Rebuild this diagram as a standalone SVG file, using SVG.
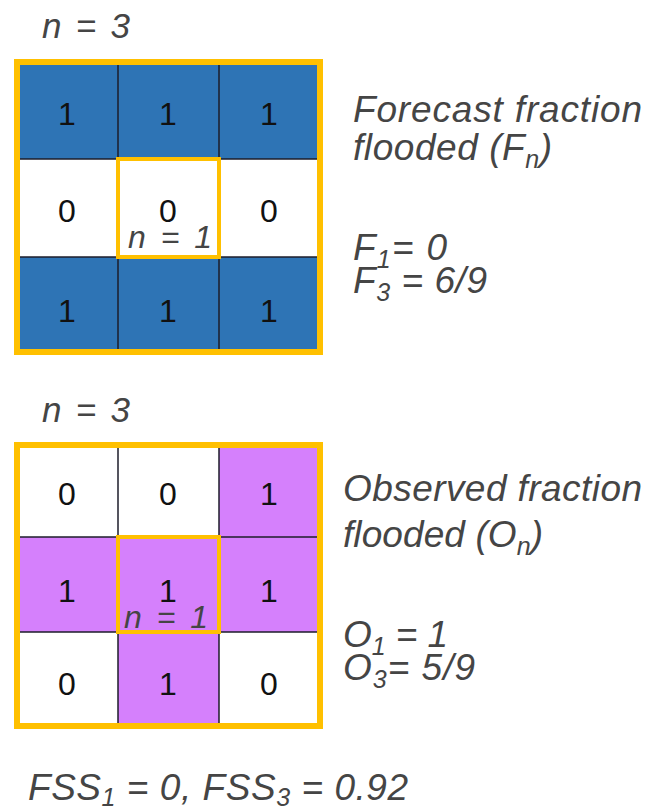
<svg xmlns="http://www.w3.org/2000/svg" width="653" height="811" viewBox="0 0 653 811">
<style>
.lbl{font-family:"Liberation Sans",Arial,sans-serif;font-style:italic;fill:#454545}
.dig{font-family:"Liberation Sans",Arial,sans-serif;font-size:32px;fill:#111;text-anchor:middle}
.grid{stroke:#1c1c2a;stroke-width:1.5}
.outer{fill:none;stroke:#FFC000;stroke-width:6}
.inner{fill:none;stroke:#FFC000;stroke-width:4}
.blue{fill:#2E74B5}
.purp{fill:#D580FC}
</style>
<rect width="653" height="811" fill="#ffffff"/>

<g id="forecast-grid">
<text class="lbl" x="42" y="38" font-size="35" textLength="88" lengthAdjust="spacing">n = 3</text>
<rect class="blue" x="17" y="62" width="303" height="97"/>
<rect fill="#fff" x="17" y="159" width="303" height="98"/>
<rect class="blue" x="17" y="257" width="303" height="95"/>
<g class="grid">
<line x1="118" y1="62" x2="118" y2="352"/>
<line x1="219" y1="62" x2="219" y2="352"/>
<line x1="17" y1="159" x2="320" y2="159"/>
<line x1="17" y1="257" x2="320" y2="257"/>
</g>
<text class="dig" x="67" y="125">1</text><text class="dig" x="168" y="125">1</text><text class="dig" x="269" y="125">1</text>
<text class="dig" x="67" y="222">0</text><text class="dig" x="168" y="222">0</text><text class="dig" x="269" y="222">0</text>
<text class="dig" x="67" y="322">1</text><text class="dig" x="168" y="322">1</text><text class="dig" x="269" y="322">1</text>
<rect class="inner" x="118" y="159" width="101" height="98"/>
<text class="lbl" x="128" y="248" font-size="32" textLength="84" lengthAdjust="spacing">n = 1</text>
<rect class="outer" x="17" y="62" width="303" height="290"/>
</g>

<g id="forecast-text">
<text class="lbl" x="353" y="122" font-size="37" textLength="289" lengthAdjust="spacing">Forecast fraction</text>
<text class="lbl" x="353" y="160" font-size="37" textLength="199" lengthAdjust="spacing">flooded (F<tspan font-size="25" dy="8">n</tspan><tspan dy="-8">)</tspan></text>
<text class="lbl" x="353" y="260" font-size="37" textLength="94" lengthAdjust="spacing">F<tspan font-size="25" dy="8">1</tspan><tspan dy="-8">= 0</tspan></text>
<text class="lbl" x="353" y="293" font-size="37" textLength="134" lengthAdjust="spacing">F<tspan font-size="25" dy="8">3</tspan><tspan dy="-8"> = 6/9</tspan></text>
</g>

<g id="observed-grid">
<text class="lbl" x="42" y="422" font-size="35" textLength="88" lengthAdjust="spacing">n = 3</text>
<rect class="purp" x="219" y="445" width="101" height="92"/>
<rect class="purp" x="17" y="537" width="303" height="95"/>
<rect class="purp" x="118" y="632" width="101" height="94"/>
<g class="grid">
<line x1="118" y1="445" x2="118" y2="726"/>
<line x1="219" y1="445" x2="219" y2="726"/>
<line x1="17" y1="537" x2="320" y2="537"/>
<line x1="17" y1="632" x2="320" y2="632"/>
</g>
<text class="dig" x="67" y="505">0</text><text class="dig" x="168" y="505">0</text><text class="dig" x="269" y="505">1</text>
<text class="dig" x="67" y="602">1</text><text class="dig" x="168" y="602">1</text><text class="dig" x="269" y="602">1</text>
<text class="dig" x="67" y="695">0</text><text class="dig" x="168" y="695">1</text><text class="dig" x="269" y="695">0</text>
<rect class="inner" x="118" y="537" width="101" height="95"/>
<text class="lbl" x="124" y="628" font-size="32" textLength="84" lengthAdjust="spacing">n = 1</text>
<rect class="outer" x="17" y="445" width="303" height="281"/>
</g>

<g id="observed-text">
<text class="lbl" x="343" y="501" font-size="37" textLength="299" lengthAdjust="spacing">Observed fraction</text>
<text class="lbl" x="343" y="547" font-size="37" textLength="200" lengthAdjust="spacing">flooded (O<tspan font-size="25" dy="8">n</tspan><tspan dy="-8">)</tspan></text>
<text class="lbl" x="343" y="647" font-size="37" textLength="105" lengthAdjust="spacing">O<tspan font-size="25" dy="8">1</tspan><tspan dy="-8"> = 1</tspan></text>
<text class="lbl" x="343" y="680" font-size="37" textLength="132" lengthAdjust="spacing">O<tspan font-size="25" dy="8">3</tspan><tspan dy="-8">= 5/9</tspan></text>
</g>

<g id="fss">
<text class="lbl" x="28" y="800" font-size="37" textLength="380" lengthAdjust="spacing">FSS<tspan font-size="25" dy="6">1</tspan><tspan dy="-6"> = 0, FSS</tspan><tspan font-size="25" dy="6">3</tspan><tspan dy="-6"> = 0.92</tspan></text>
</g>
</svg>
